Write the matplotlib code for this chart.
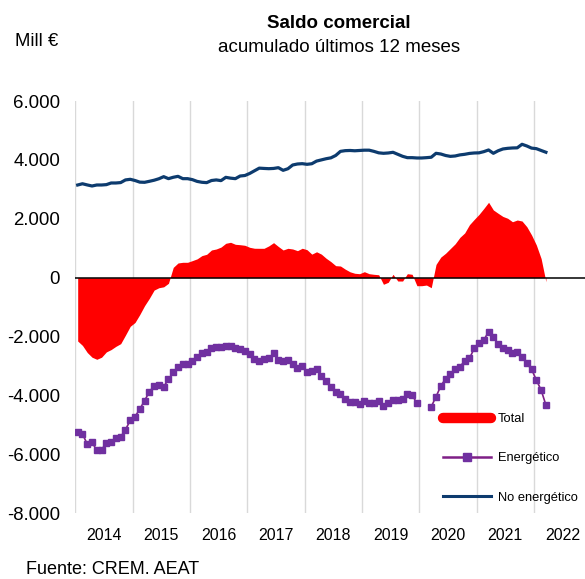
import numpy as np
import matplotlib
matplotlib.use("Agg")
import matplotlib.pyplot as plt
from matplotlib.lines import Line2D
from matplotlib.ticker import FixedLocator, FuncFormatter

plt.rcParams['font.family'] = ['Liberation Sans', 'DejaVu Sans']

# Monthly data, Jan 2014 .. Mar 2022 (99 months)
years = ["2014", "2015", "2016", "2017", "2018", "2019", "2020", "2021", "2022"]

total = [
    -2150, -2300, -2540, -2700, -2771, -2700, -2520, -2440, -2330, -2240, -1950, -1650,
    -1520, -1250, -950, -700, -420, -340, -310, -190, 350, 500, 523, 523,
    580, 640, 750, 795, 941, 975, 1040, 1168, 1202, 1134, 1120, 1100,
    1032, 1000, 998, 998, 1080, 1190, 1060, 941, 998, 975, 918, 1000,
    950, 800, 880, 800, 660, 545, 409, 397, 290, 200, 150, 136,
    204, 136, 115, 100, -224, -156, 115, -113, -113, 136, 115, -272,
    -272, -250, -340, 450, 700, 829, 990, 1150, 1370, 1520, 1800, 1980,
    2150, 2350, 2561, 2300, 2187, 2080, 2017, 1900, 1959, 1925, 1732, 1450,
    1110, 650, -136,
]

energetico = [
    -5251, -5308, -5648, -5591, -5863, -5840, -5603, -5591, -5455, -5399, -5161, -4844,
    -4720, -4459, -4177, -3872, -3679, -3645, -3700, -3452, -3213, -3022, -2942, -2931,
    -2829, -2705, -2547, -2535, -2399, -2354, -2343, -2320, -2309, -2377, -2422, -2479,
    -2603, -2761, -2818, -2773, -2739, -2569, -2795, -2818, -2795, -2942, -3078, -2988,
    -3191, -3165, -3105, -3330, -3498, -3700, -3872, -3950, -4131, -4211, -4211, -4290,
    -4177, -4267, -4267, -4177, -4358, -4267, -4154, -4154, -4131, -3950, -3984, -4267,
    np.nan, np.nan, -4381, -4041, -3679, -3430, -3282, -3112, -3022, -2829, -2739, -2399,
    -2207, -2117, -1834, -2004, -2252, -2399, -2456, -2569, -2535, -2683, -2908, -3112,
    -3475, -3815, -4324,
]

no_energetico = [
    3148, 3190, 3150, 3114, 3148, 3148, 3160, 3216, 3216, 3230, 3320, 3341,
    3300, 3245, 3239, 3273, 3310, 3360, 3431, 3363, 3410, 3442, 3363, 3363,
    3330, 3270, 3240, 3228, 3300, 3320, 3296, 3408, 3380, 3363, 3453, 3470,
    3540, 3630, 3720, 3710, 3702, 3710, 3736, 3646, 3700, 3827, 3861, 3872,
    3850, 3870, 3960, 4000, 4040, 4070, 4150, 4290, 4314, 4320, 4310, 4320,
    4330, 4330, 4290, 4240, 4224, 4235, 4258, 4190, 4122, 4076, 4076, 4065,
    4065, 4076, 4090, 4224, 4200, 4150, 4120, 4133, 4170, 4190, 4220, 4235,
    4240, 4280, 4337, 4224, 4310, 4371, 4393, 4405, 4410, 4530, 4473, 4400,
    4382, 4320, 4260,
]

yticks = [-8000, -6000, -4000, -2000, 0, 2000, 4000, 6000]

RED = "#ff0000"
PURPLE = "#7030a0"
PURPLE_LINE = "#7f1f86"
NAVY = "#0d3b6e"

W, H = 585, 579
fig = plt.figure(figsize=(W / 100, H / 100), dpi=100)
ax_left, ax_right = 75.3, 591.3
ax_top, ax_bot = 101.0, 513.3
ax = fig.add_axes([ax_left / W, 1 - ax_bot / H, (ax_right - ax_left) / W, (ax_bot - ax_top) / H])

x = np.arange(len(total)) + 0.5
tot = np.array(total, dtype=float)
ax.fill_between(x, 0, tot, color=RED, linewidth=0, zorder=2)
ax.axhline(0, color="black", lw=1.1, zorder=4)
ax.plot(x, no_energetico, color=NAVY, lw=2.3, zorder=3, solid_joinstyle="round")
ax.plot(x, energetico, color=PURPLE_LINE, lw=1.2, zorder=3,
        marker="s", markersize=4.6, markerfacecolor=PURPLE, markeredgecolor=PURPLE)

ax.set_xlim(0, 108)
ax.set_ylim(-8000, 6000)
for s in ax.spines.values():
    s.set_visible(False)

ax.xaxis.set_major_locator(FixedLocator(np.arange(0, 109, 12)))
ax.xaxis.set_major_formatter(FuncFormatter(lambda v, p: ""))
ax.set_xticks(np.arange(6, 108, 12), minor=True)
ax.set_xticklabels(years, minor=True)
ax.tick_params(axis="x", which="both", length=0, pad=10.5, labelsize=11.5)
ax.grid(axis="x", which="major", color="#d9d9d9", lw=1.0, zorder=0)
ax.set_axisbelow(True)

ax.set_yticks(yticks)
ax.set_yticklabels([f"{v:,.0f}".replace(",", ".") for v in yticks])
ax.tick_params(axis="y", length=0, pad=11, labelsize=13.4)

fig.text(339 / W, 1 - 23 / H, "Saldo comercial", ha="center", va="center",
         fontsize=13.5, fontweight="bold")
fig.text(339 / W, 1 - 47.5 / H, "acumulado últimos 12 meses", ha="center", va="center",
         fontsize=13.5)
fig.text(15 / W, 1 - 42 / H, "Mill €", ha="left", va="center", fontsize=13.3)
fig.text(26 / W, 1 - 569 / H, "Fuente: CREM. AEAT", ha="left", va="center", fontsize=13)

handles = [
    Line2D([], [], color=RED, lw=7.5, solid_capstyle="round"),
    Line2D([], [], color=PURPLE_LINE, lw=1.8, marker="s", markersize=5.5,
           markerfacecolor=PURPLE, markeredgecolor=PURPLE),
    Line2D([], [], color=NAVY, lw=2.2),
]
fig.legend(handles, ["Total", "Energético", "No energético"],
           loc="upper left", bbox_to_anchor=(443 / W, 1 - 413 / H),
           frameon=False, fontsize=9.3, handlelength=3.7, handletextpad=0.55,
           labelspacing=2.12, borderpad=0, borderaxespad=0, numpoints=1)

fig.savefig("out.png", dpi=100)
